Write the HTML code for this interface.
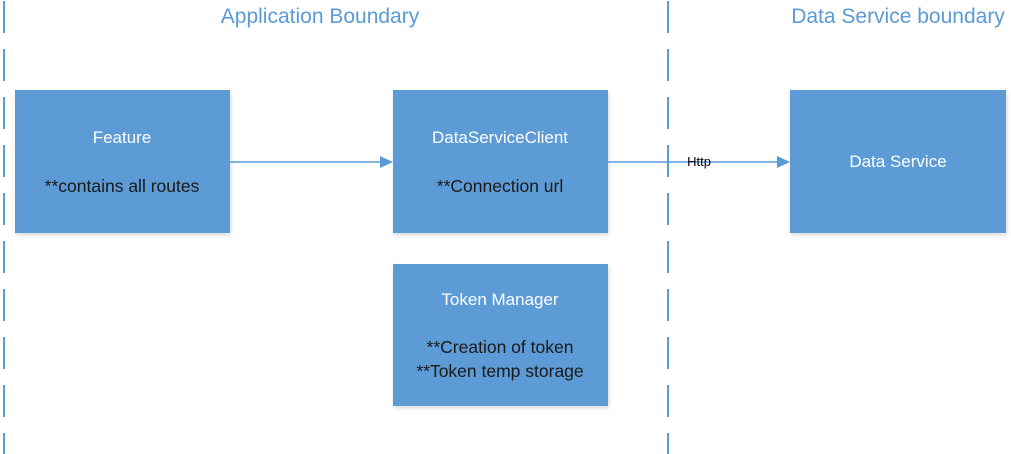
<!DOCTYPE html>
<html><head><meta charset="utf-8"><style>
body{margin:0;width:1011px;height:454px;background:#fff;overflow:hidden;font-family:"Liberation Sans",sans-serif}
</style></head><body>
<svg width="1011" height="454" xmlns="http://www.w3.org/2000/svg" style="position:absolute;left:0;top:0">
<defs><filter id="s" x="-10%" y="-10%" width="130%" height="130%"><feDropShadow dx="1" dy="2" stdDeviation="2" flood-color="#000" flood-opacity="0.15"/></filter></defs>
<g stroke="#5b9bd5" stroke-width="2" stroke-dasharray="32 16">
<line x1="4" y1="1" x2="4" y2="454"/>
<line x1="668" y1="1" x2="668" y2="454"/>
</g>
<g fill="#5b9bd5" filter="url(#s)">
<rect x="15" y="90" width="215" height="143"/>
<rect x="393" y="90" width="215" height="143"/>
<rect x="790" y="90" width="216" height="143"/>
<rect x="393" y="264" width="215" height="142"/>
</g>
<g stroke="#5b9bd5" stroke-width="1.5">
<line x1="230" y1="162" x2="382" y2="162"/>
<line x1="608" y1="162" x2="780" y2="162"/>
</g>
<polygon points="380,156 393,162 380,168" fill="#5b9bd5"/>
<polygon points="777,156 790,162 777,168" fill="#5b9bd5"/>
<g font-family="Liberation Sans, sans-serif" text-anchor="middle">
<text x="320" y="23" font-size="21" fill="#5b9bd5">Application Boundary</text>
<text x="898" y="23" font-size="21" fill="#5b9bd5">Data Service boundary</text>
<g font-size="17" fill="#fff">
<text x="122" y="143">Feature</text>
<text x="500" y="143">DataServiceClient</text>
<text x="898" y="167">Data Service</text>
<text x="500" y="305">Token Manager</text>
</g>
<g font-size="17.5" fill="#1a1a1a">
<text x="122" y="192">**contains all routes</text>
<text x="500" y="192">**Connection url</text>
<text x="500" y="353">**Creation of token</text>
<text x="500" y="377">**Token temp storage</text>
</g>
<text x="699" y="166" font-size="13" fill="#000">Http</text>
</g>
</svg>
</body></html>
